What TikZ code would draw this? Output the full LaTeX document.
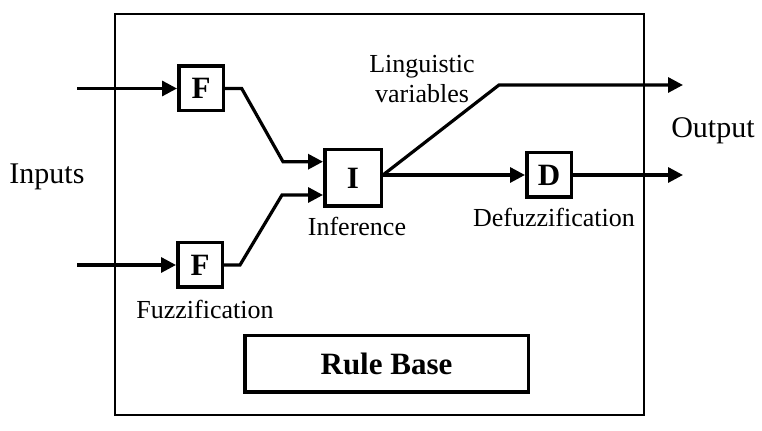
\documentclass[tikz,border=0pt]{standalone}
\usepackage{fontspec}
\setmainfont{Liberation Serif}
\usetikzlibrary{arrows.meta}
\begin{document}
\begin{tikzpicture}[x=0.5pt,y=-0.5pt,
  blk/.style={draw,line width=1.75pt,minimum width=22.25pt,minimum height=22.25pt,inner sep=0pt,font=\fontsize{15.5}{18}\selectfont\bfseries},
  conn/.style={line width=1.6pt,line join=miter},
  arr/.style={conn,-{Triangle[length=7.5pt,width=7.5pt]}},
  lbl/.style={font=\fontsize{13}{15}\selectfont,inner sep=0pt},
  big/.style={font=\fontsize{15}{18}\selectfont,inner sep=0pt}]
\useasboundingbox (0,0) rectangle (762,431);
\draw[line width=1pt] (115,14) rectangle (644,415);
% blocks
\node[blk] (F1) at (201,88.5) {F};
\node[blk] (F2) at (200,265) {F};
\node[blk,minimum width=28.25pt,minimum height=28.25pt] (I) at (353,178) {I};
\node[blk] (D) at (549,175) {D};
\node[blk,minimum width=141.75pt,minimum height=28.25pt] (R) at (386.5,364) {Rule Base};
% coordinates
\coordinate (in1) at (77,88.5);
\coordinate (in2) at (77,265);
\coordinate (c1) at (241.7,88.5);
\coordinate (c2) at (283,161.7);
\coordinate (c3) at (240,265);
\coordinate (c4) at (282,195);
\coordinate (c5) at (499,85);
\coordinate (out1) at (683,85);
\coordinate (out2) at (683,175);
% connectors
\draw[arr] (in1) -- (F1.west);
\draw[arr] (in2) -- (F2.west);
\draw[arr] (F1.east) -- (c1) -- (c2) -- (I.west |- c2);
\draw[arr] (F2.east) -- (c3) -- (c4) -- (I.west |- c4);
\draw[arr] (I.east |- D.west) -- (D.west);
\draw[arr] (I.east |- D.west) -- (c5) -- (out1);
\draw[arr] (D.east) -- (out2);
% labels
\node[big] (inputs) at (47,177) {Inputs};
\node[big] (output) at (713,131) {Output};
\node[lbl,align=center] (ling) at (422,79) {Linguistic\\variables};
\node[lbl] (inf) at (357,226) {Inference};
\node[lbl] (defz) at (554,217) {Defuzzification};
\node[lbl] (fuzz) at (205,309) {Fuzzification};
\end{tikzpicture}
\end{document}
